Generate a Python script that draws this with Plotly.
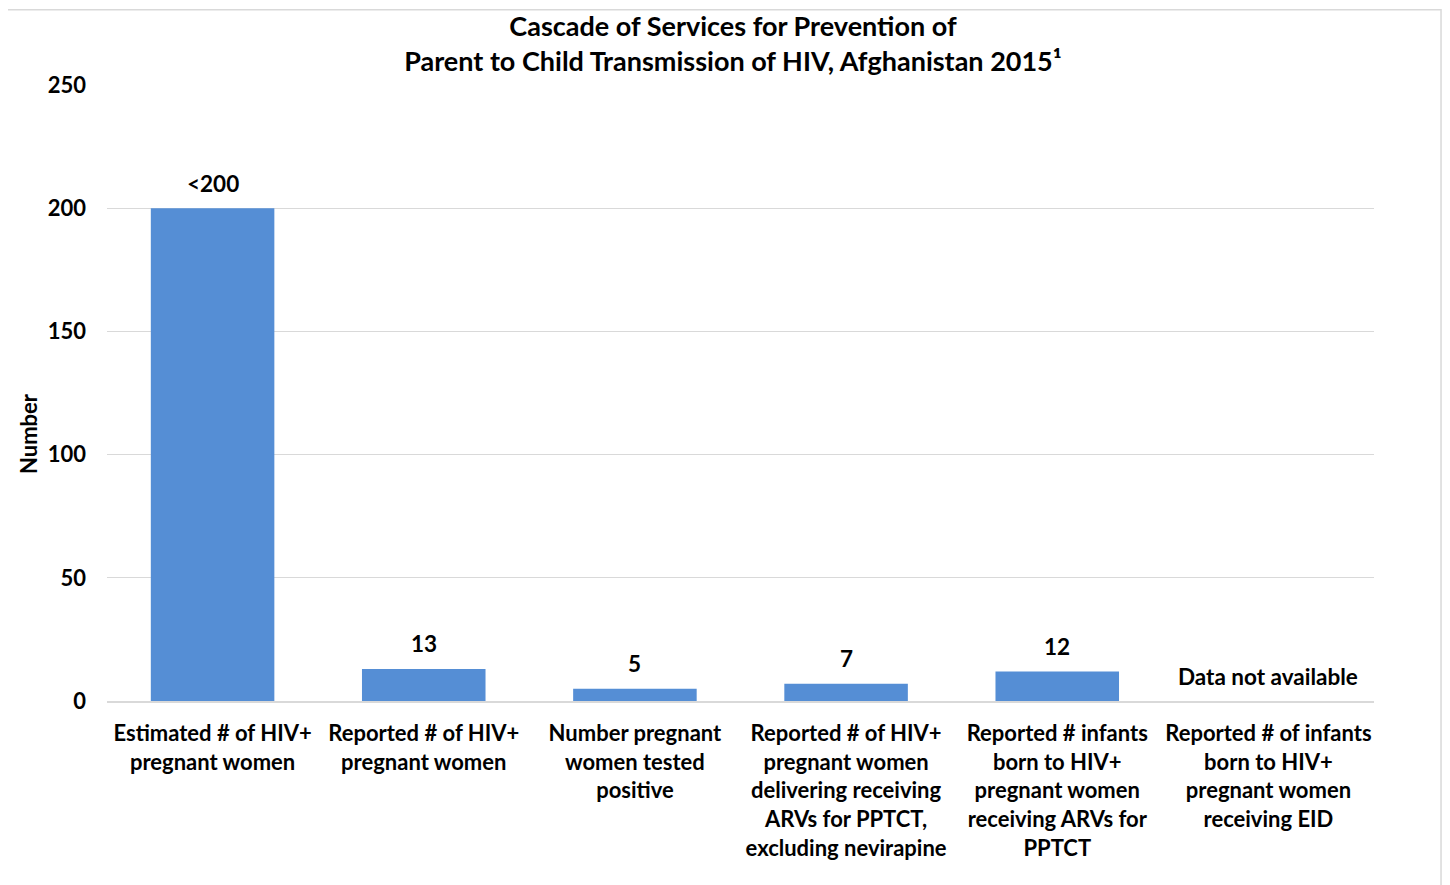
import plotly.graph_objects as go

categories = [
    "Estimated # of HIV+<br>pregnant women",
    "Reported # of HIV+<br>pregnant women",
    "Number pregnant<br>women tested<br>positive",
    "Reported # of HIV+<br>pregnant women<br>delivering receiving<br>ARVs for PPTCT,<br>excluding nevirapine",
    "Reported # infants<br>born to HIV+<br>pregnant women<br>receiving ARVs for<br>PPTCT",
    "Reported # of infants<br>born to HIV+<br>pregnant women<br>receiving EID",
]
values = [200, 13, 5, 7, 12, None]
labels = ["<200", "13", "5", "7", "12", "Data not available"]
y_ticks = [0, 50, 100, 150, 200, 250]

FONT = "Lato"
BLUE = "#558ED5"
GRID = "#D9D9D9"

fig = go.Figure()
fig.add_trace(go.Bar(
    x=list(range(len(categories))),
    y=[v if v is not None else 0 for v in values],
    marker=dict(color=BLUE, line=dict(width=0)),
    hoverinfo="skip",
))

for i, (v, t) in enumerate(zip(values, labels)):
    fig.add_annotation(
        x=i, y=(v if v is not None else 0), text=t, showarrow=False,
        xref="x", yref="y", yshift=25, yanchor="middle",
        font=dict(family=FONT, size=22.5, color="#000000", weight="bold"),
    )

# y-axis title (placed lower than plot middle, as in the reference)
fig.add_annotation(
    x=-0.0624, y=0.435, xref="paper", yref="paper", text="Number",
    textangle=-90, showarrow=False, xanchor="center", yanchor="middle",
    font=dict(family=FONT, size=22, color="#000000", weight="bold"),
)

fig.add_shape(
    type="rect", xref="paper", yref="paper",
    x0=-0.0789, x1=1.0529, y0=-0.32, y1=1.122,
    line=dict(color="#D9D9D9", width=1.5), fillcolor="rgba(0,0,0,0)", layer="below",
)

W, H = 1442, 877
fig.update_layout(
    width=W, height=H,
    margin=dict(l=99, r=76, t=77, b=184),
    paper_bgcolor="white", plot_bgcolor="white",
    bargap=0.415,
    showlegend=False,
    title=dict(
        text="Cascade of Services for Prevention of<br>Parent to Child Transmission of HIV, Afghanistan 2015¹",
        x=725 / W, xanchor="center", y=1 - 28 / H, yanchor="middle",
        font=dict(family=FONT, size=27, color="#000000", weight="bold"),
    ),
    xaxis=dict(
        range=[-0.5, len(categories) - 0.5],
        tickmode="array", tickvals=list(range(len(categories))), ticktext=categories,
        showgrid=False, zeroline=False,
        showline=True, linecolor=GRID, linewidth=1.5,
        ticks="", ticklabelstandoff=12,
        tickfont=dict(family=FONT, size=22, color="#000000", weight="bold"),
        fixedrange=True,
    ),
    yaxis=dict(
        range=[0, 250], tickmode="array", tickvals=y_ticks,
        showgrid=True, gridcolor=GRID, gridwidth=1,
        zeroline=False, showline=False, ticks="",
        ticklabelstandoff=20,
        tickfont=dict(family=FONT, size=22, color="#000000", weight="bold"),
        fixedrange=True,
    ),
)

fig.write_html("out.html")
